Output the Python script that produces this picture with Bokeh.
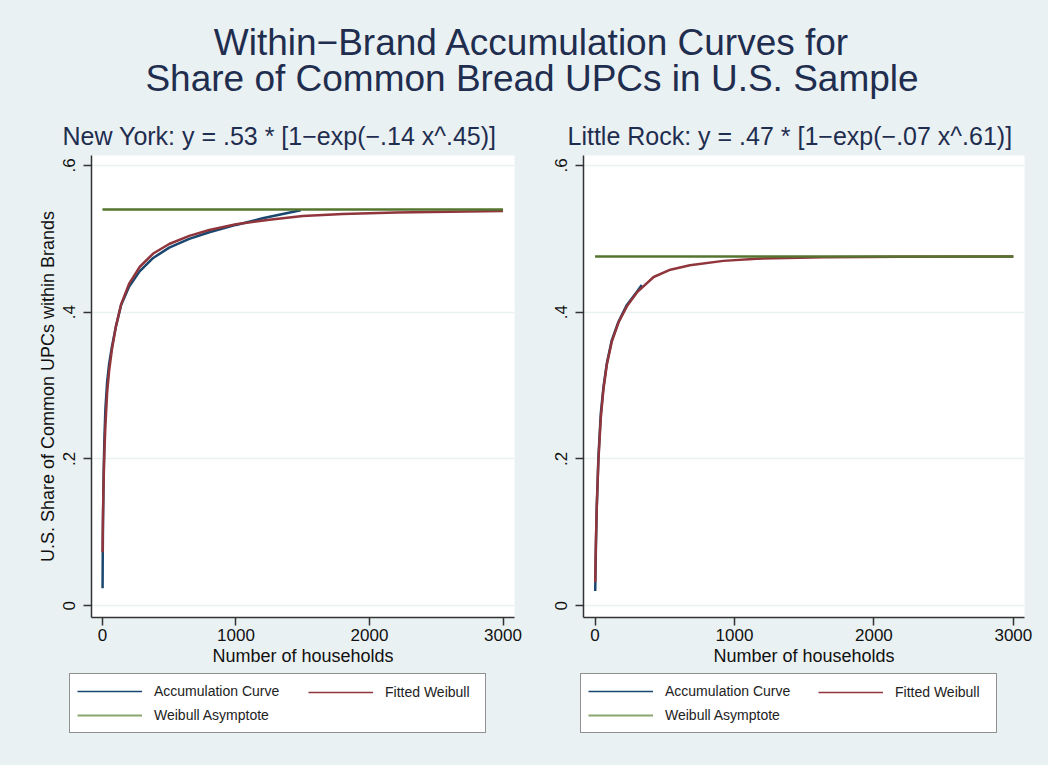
from bokeh.plotting import figure
from bokeh.models import Range1d, FixedTicker, Legend, LegendItem, Label
from bokeh.layouts import column, row
from bokeh.embed import file_html
from bokeh.resources import INLINE

# ---------------- data ----------------
title_lines = ["Within\u2212Brand Accumulation Curves for",
               "Share of Common Bread UPCs in U.S. Sample"]
ny_subtitle = "New York: y = .53 * [1\u2212exp(\u2212.14 x^.45)]"
lr_subtitle = "Little Rock: y = .47 * [1\u2212exp(\u2212.07 x^.61)]"
y_label = "U.S. Share of Common UPCs within Brands"
x_label = "Number of households"
legend_labels = ["Accumulation Curve", "Fitted Weibull", "Weibull Asymptote"]

x_ticks = [0, 1000, 2000, 3000]
y_ticks = [0, 0.2, 0.4, 0.6]
y_tick_labels = ["0", ".2", ".4", ".6"]

# New York
ny_acc_hh = [1, 2, 4, 7, 10, 15, 22, 35, 50, 70, 100, 140, 200, 280, 380, 500,
             650, 800, 1000, 1200, 1350, 1485]
ny_acc = [0.024, 0.062, 0.110, 0.155, 0.190, 0.230, 0.268, 0.305, 0.330, 0.352,
          0.380, 0.410, 0.435, 0.456, 0.474, 0.488, 0.500, 0.509, 0.519, 0.528,
          0.534, 0.539]
ny_fit_hh = [1, 2, 4, 7, 10, 15, 22, 35, 50, 70, 100, 140, 200, 280, 380, 500,
             650, 800, 1000, 1250, 1500, 1800, 2200, 2600, 3000]
ny_fit = [0.073, 0.095, 0.125, 0.155, 0.178, 0.212, 0.245, 0.290, 0.320, 0.348,
          0.380, 0.411, 0.439, 0.462, 0.480, 0.493, 0.504, 0.512, 0.520, 0.526,
          0.531, 0.534, 0.536, 0.537, 0.538]
ny_asym_hh = [0, 3000]
ny_asym = [0.540, 0.540]

# Little Rock
lr_acc_hh = [1, 3, 6, 12, 24, 41, 60, 84, 120, 168, 228, 300, 335]
lr_acc = [0.020, 0.045, 0.080, 0.135, 0.203, 0.262, 0.298, 0.330, 0.362, 0.387,
          0.410, 0.428, 0.437]
lr_fit_hh = [1, 3, 6, 12, 24, 41, 60, 84, 120, 168, 228, 300, 420, 540, 680,
             920, 1160, 1640, 2200, 3000]
lr_fit = [0.032, 0.058, 0.088, 0.133, 0.198, 0.256, 0.295, 0.328, 0.360, 0.386,
          0.408, 0.427, 0.448, 0.458, 0.464, 0.470, 0.473, 0.475, 0.4755, 0.476]
lr_asym_hh = [0, 3000]
lr_asym = [0.476, 0.476]

# ---------------- style ----------------
BG = "#eaf1f3"
TITLE_C = "#1f2d4f"
NAVY = "#1a476f"
MAROON = "#90353b"
GREEN = "#55752f"
LEG_GREEN = "#8aa56e"
FONT = "Liberation Sans"

title_fig = figure(width=1048, height=100, x_range=Range1d(0, 1048), y_range=Range1d(0, 100),
                   x_axis_type=None, y_axis_type=None, toolbar_location=None,
                   output_backend="svg", min_border=0, outline_line_color=None,
                   background_fill_color=BG, border_fill_color=BG)
for txt, yy in zip(title_lines, [58, 22]):
    title_fig.add_layout(Label(x=531.5, y=yy, text=txt, text_align="center",
                               text_baseline="middle", text_font_size="37px",
                               text_font=FONT, text_color=TITLE_C))


def panel(width, subtitle, sub_offset, xr, bl, br, acc_x, acc_y, fit_x, fit_y, as_x, as_y,
          show_ylabel):
    p = figure(width=width, height=573, x_range=Range1d(*xr), y_range=Range1d(-0.016, 0.6136),
               toolbar_location=None, output_backend="svg",
               min_border_left=bl, min_border_right=br, min_border_top=55,
               min_border_bottom=56, background_fill_color="white",
               border_fill_color=BG, outline_line_color=None)
    p.title.text = subtitle
    p.title.text_font = FONT
    p.title.text_font_size = "25px"
    p.title.text_font_style = "normal"
    p.title.text_color = TITLE_C
    p.title.align = "left"
    p.title.offset = sub_offset
    p.title.standoff = 11

    for ax in (p.xaxis, p.yaxis):
        ax.axis_line_color = "#333333"
        ax.axis_line_width = 1.5
        ax.major_tick_line_color = "#333333"
        ax.major_tick_line_width = 1.5
        ax.major_tick_out = 8
        ax.major_tick_in = 0
        ax.minor_tick_line_color = None
        ax.major_label_text_font = FONT
        ax.major_label_text_font_size = "17px"
        ax.major_label_text_color = "#111111"
        ax.axis_label_text_font = FONT
        ax.axis_label_text_font_size = "18px"
        ax.axis_label_text_font_style = "normal"
        ax.axis_label_text_color = "#111111"
    p.xaxis.ticker = FixedTicker(ticks=x_ticks)
    p.xaxis.major_label_standoff = 3
    p.xaxis.axis_label = x_label
    p.xaxis.axis_label_standoff = 2
    p.yaxis.ticker = FixedTicker(ticks=y_ticks)
    p.yaxis.major_label_overrides = dict(zip(y_ticks, y_tick_labels))
    p.yaxis.major_label_orientation = "vertical"
    p.yaxis.major_label_standoff = 8
    if show_ylabel:
        p.yaxis.axis_label = y_label
        p.yaxis.axis_label_standoff = 3
    p.xgrid.visible = False
    p.ygrid.grid_line_color = BG
    p.ygrid.grid_line_width = 1.5

    p.line(acc_x, acc_y, line_color=NAVY, line_width=2.5)
    p.line(fit_x, fit_y, line_color=MAROON, line_width=2.5)
    p.line(as_x, as_y, line_color=GREEN, line_width=2.5)
    return p


p1 = panel(528, ny_subtitle, -29, (-82, 3086), 91, 14, ny_acc_hh, ny_acc, ny_fit_hh, ny_fit,
           ny_asym_hh, ny_asym, True)
p2 = panel(520, lr_subtitle, -16, (-83, 3080), 55, 24, lr_acc_hh, lr_acc, lr_fit_hh, lr_fit,
           lr_asym_hh, lr_asym, False)

# ---------------- legends strip ----------------
leg_fig = figure(width=1048, height=92, x_range=Range1d(-1e6, -9e5), y_range=Range1d(0, 1),
                 x_axis_type=None, y_axis_type=None, toolbar_location=None,
                 output_backend="svg", min_border=0, outline_line_color=None,
                 background_fill_color=BG, border_fill_color=BG)

leg_common = dict(glyph_width=65, glyph_height=20, label_height=20, label_standoff=12,
                  spacing=4, padding=7, margin=0, label_text_font=FONT,
                  label_text_font_size="14px", label_text_color="#222222")

for (acc_x, acc_y, fit_x, fit_y, as_x, as_y), box_x, col2_x in [
        ((ny_acc_hh, ny_acc, ny_fit_hh, ny_fit, ny_asym_hh, ny_asym), 69, 308),
        ((lr_acc_hh, lr_acc, lr_fit_hh, lr_fit, lr_asym_hh, lr_asym), 580, 818)]:
    r1 = leg_fig.line(acc_x, acc_y, line_color=NAVY, line_width=1.5, visible=False)
    r2 = leg_fig.line(fit_x, fit_y, line_color=MAROON, line_width=1.5, visible=False)
    r3 = leg_fig.line(as_x, as_y, line_color=LEG_GREEN, line_width=2, visible=False)
    box = Legend(items=[LegendItem(label=legend_labels[0], renderers=[r1]),
                        LegendItem(label=legend_labels[2], renderers=[r3])],
                 orientation="vertical", location=(box_x, 32), label_width=324,
                 border_line_color="#222222", border_line_width=1.5,
                 background_fill_color="white", background_fill_alpha=1, **leg_common)
    second = Legend(items=[LegendItem(label=legend_labels[1], renderers=[r2])],
                    orientation="vertical", location=(col2_x, 63), label_width=80,
                    border_line_color=None, background_fill_alpha=0, **leg_common)
    leg_fig.add_layout(box, "center")
    leg_fig.add_layout(second, "center")

layout = column(title_fig, row(p1, p2, spacing=0, styles={"background-color": BG}),
                leg_fig, spacing=0, styles={"background-color": BG})
open("out.html", "w").write(file_html(layout, INLINE))
